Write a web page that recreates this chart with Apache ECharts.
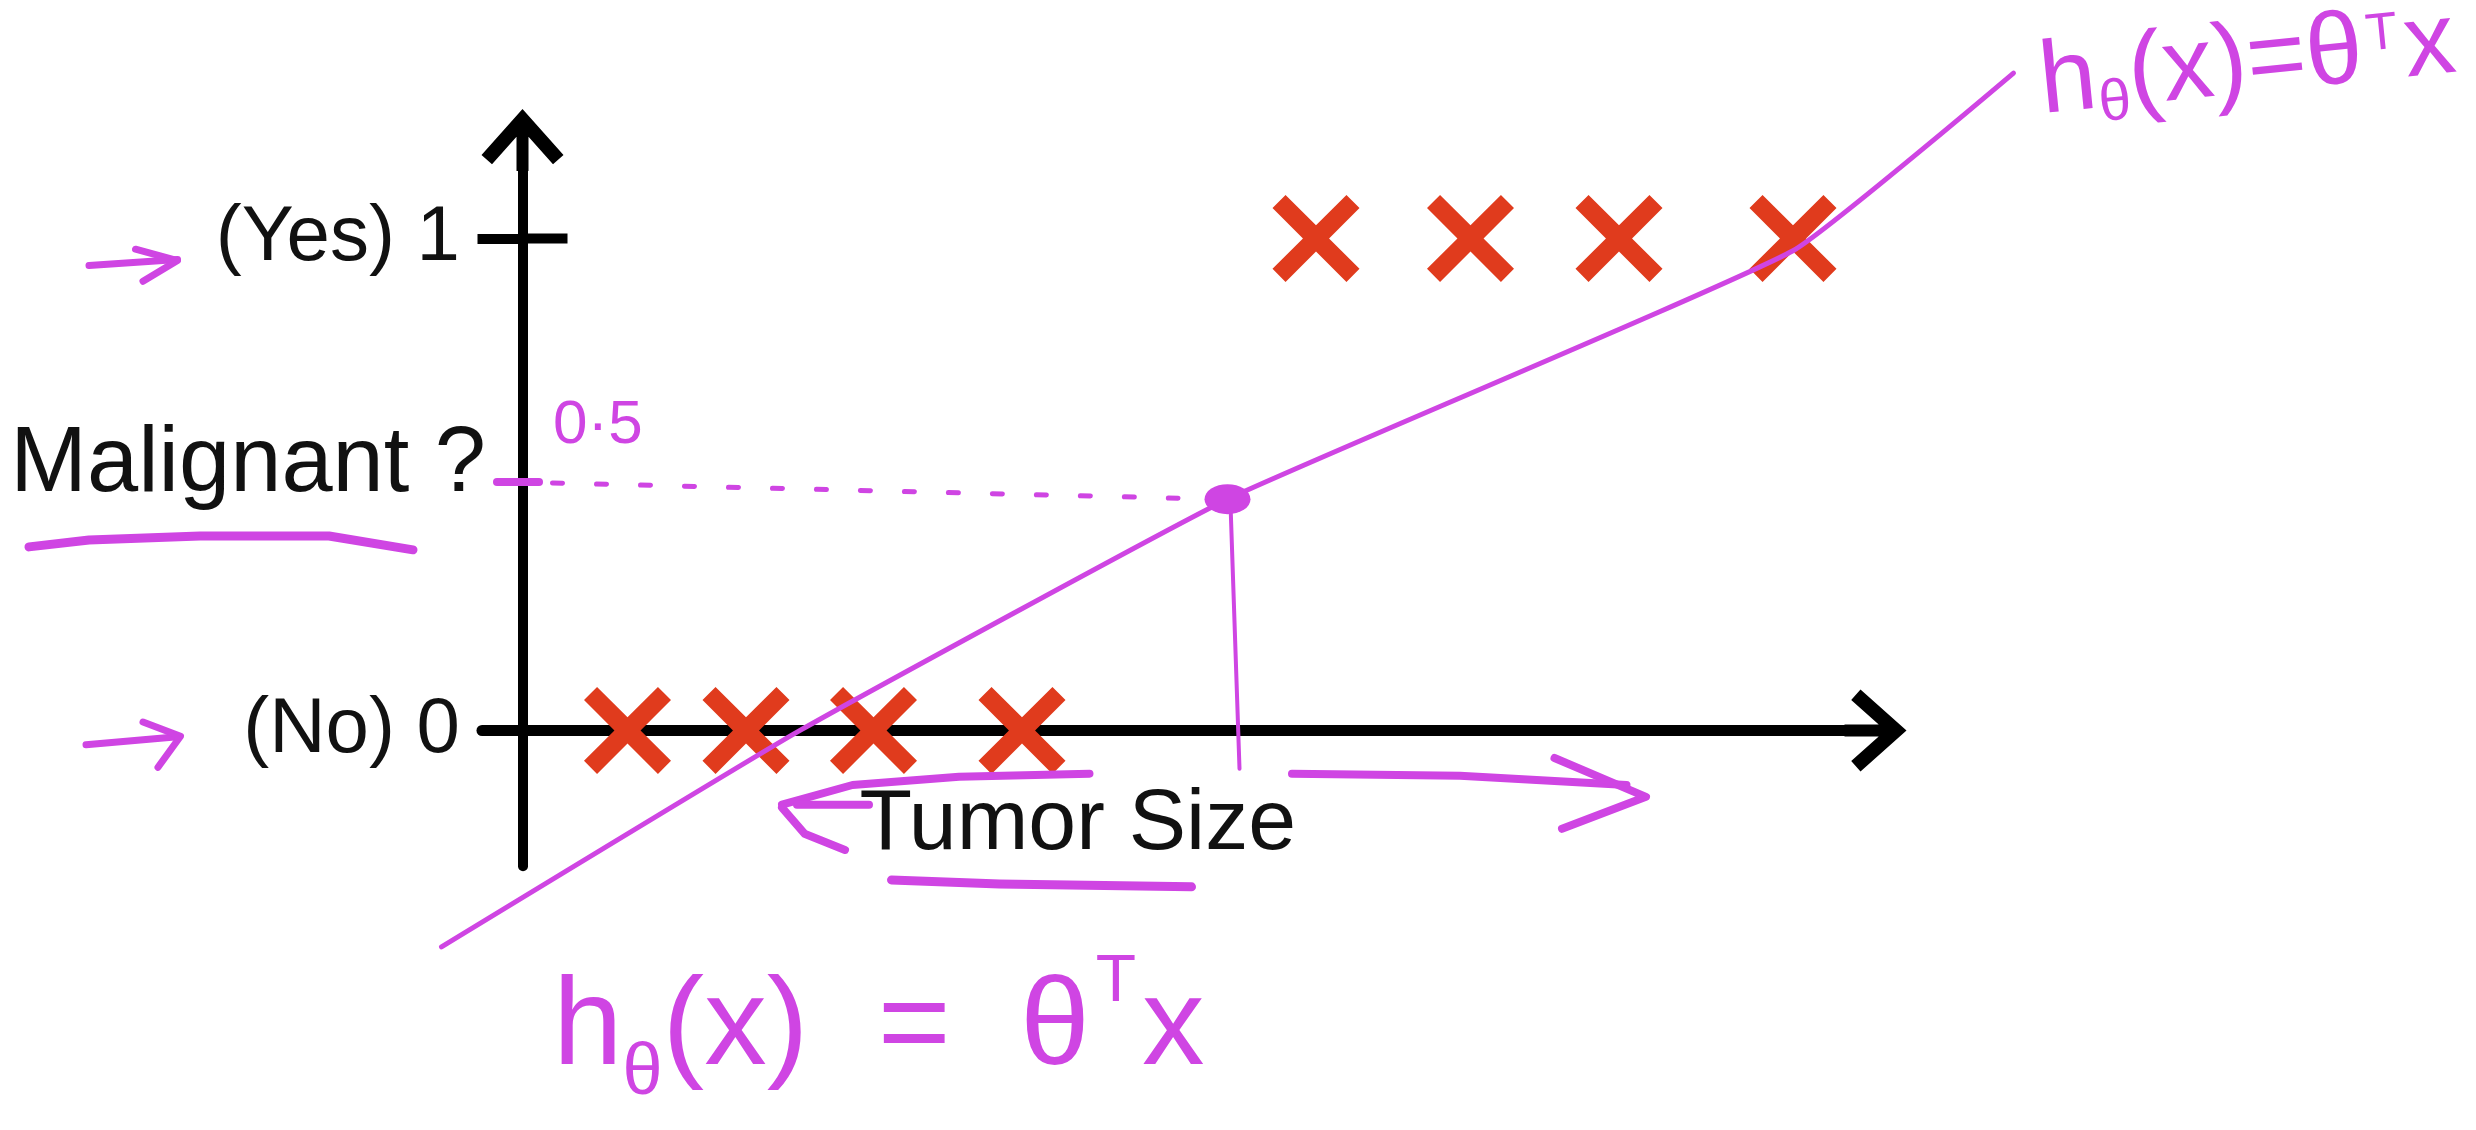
<!DOCTYPE html>
<html><head><meta charset="utf-8">
<script src="https://cdn.jsdelivr.net/npm/echarts@6/dist/echarts.min.js"></script>
<style>html,body{margin:0;padding:0;background:#fff}#c{width:2476px;height:1130px}</style>
</head><body><div id="c"></div>
<script>
// ---- data ----
const yTickValues = [0, 1];
const yTickLabels = ['(No) 0', '(Yes) 1'];
const benignSizes = [0.70, 1.49, 2.34, 3.33];      // tumor sizes labelled 0 (No)
const malignantSizes = [5.29, 6.32, 7.31, 8.47];   // tumor sizes labelled 1 (Yes)
const hypothesisX = [-0.54, 1.85, 4.70, 8.47, 9.94];
const hypothesisY = [-0.44, 0.00, 0.47, 0.975, 1.336];
const thresholdValue = 0.5;
const thresholdPoint = [4.70, 0.47];
// hand-drawn annotation strokes (data coordinates)
const strokeYesArrowShaft = [[-2.89, 0.945], [-2.30, 0.957]];
const strokeYesArrowHead = [[-2.58, 0.978], [-2.30, 0.955], [-2.53, 0.913]];
const strokeNoArrowShaft = [[-2.91, -0.029], [-2.30, -0.013]];
const strokeNoArrowHead = [[-2.53, 0.017], [-2.28, -0.012], [-2.43, -0.075]];
const strokeMalignantUnderline = [[-3.29, 0.373], [-2.89, 0.387], [-2.15, 0.395], [-1.29, 0.395], [-0.73, 0.367]];
const strokeTumorUnderline = [[2.46, -0.304], [3.18, -0.312], [4.46, -0.318]];
const strokeLeftArrowUpper = [[3.78, -0.088], [2.91, -0.094], [2.20, -0.111], [1.73, -0.151]];
const strokeLeftArrowLower = [[1.73, -0.157], [1.88, -0.210], [2.15, -0.243]];
const strokeLeftArrowShaft = [[1.83, -0.151], [2.31, -0.151]];
const strokeRightArrowShaft = [[5.13, -0.088], [6.25, -0.092], [7.36, -0.111]];
const strokeRightArrowHead = [[6.88, -0.056], [7.49, -0.135], [6.93, -0.200]];
const strokeHalfMark = [[-0.17, 0.505], [0.11, 0.505]];
const strokeHalfDashed = [[0.20, 0.503], [4.37, 0.472]];
const strokeDrop = [[4.72, 0.46], [4.78, -0.078]];
const tickRightPart = [[0, 1], [0.3, 1]];

// ---- layout (one linear mapping shared by both grids) ----
const W = 2476, H = 1130;
const PX_X = 150, PX_Y = 492;
const X_MIN = -0.27, X_MAX = 9.02, Y_MIN = -0.276, Y_MAX = 1.2;
const G_LEFT = 482, G_TOP = 140;
const G_RIGHT = W - G_LEFT - (X_MAX - X_MIN) * PX_X;
const G_BOTTOM = H - G_TOP - (Y_MAX - Y_MIN) * PX_Y;
const FX_MIN = X_MIN - G_LEFT / PX_X, FX_MAX = X_MAX + G_RIGHT / PX_X;
const FY_MIN = Y_MIN - G_BOTTOM / PX_Y, FY_MAX = Y_MAX + G_TOP / PX_Y;

// ---- styles ----
const PINK = '#cf45e3';
const RED = '#e03b1d';
const FONT = "'Liberation Sans', Arial, sans-serif";
const ARROW = 'path://M41 0 L82 46 L71.5 55.3 L47 27.8 L47 62 L35 62 L35 27.8 L10.5 55.3 L0 46 Z';
const CROSS = 'path://M0 15 L15 0 L50 35 L85 0 L100 15 L65 50 L100 85 L85 100 L50 65 L15 100 L0 85 L35 50 Z';

function stroke(data, width, extra) {
  return Object.assign({
    type: 'line', data: data, symbol: 'none', clip: false, silent: true, z: 5,
    xAxisIndex: 1, yAxisIndex: 1,
    lineStyle: { color: PINK, width: width || 6, cap: 'round', join: 'round' }
  }, extra || {});
}

const chart = echarts.init(document.getElementById('c'), null, { renderer: 'canvas' });
chart.setOption({
  backgroundColor: '#ffffff',
  animation: false,
  grid: [
    { left: G_LEFT, top: G_TOP, right: G_RIGHT, bottom: G_BOTTOM, containLabel: false, outerBoundsMode: 'none' },
    { left: 0, top: 0, right: 0, bottom: 0, containLabel: false, outerBoundsMode: 'none' }
  ],
  xAxis: [{
    type: 'value', gridIndex: 0, min: X_MIN, max: X_MAX,
    axisLine: { onZero: true, lineStyle: { color: '#000', width: 11 }, symbol: ['none', ARROW], symbolSize: [82, 62] },
    axisTick: { show: false }, axisLabel: { show: false }, splitLine: { show: false },
    name: 'Tumor Size', nameLocation: 'middle', nameGap: -84, nameMoveOverlap: false,
    nameTextStyle: { fontSize: 86, color: '#111', fontFamily: FONT, padding: [0, 202, 0, 0] }
  }, {
    type: 'value', gridIndex: 1, min: FX_MIN, max: FX_MAX, show: false
  }],
  yAxis: [{
    type: 'value', gridIndex: 0, min: Y_MIN, max: Y_MAX,
    axisLine: { onZero: true, lineStyle: { color: '#000', width: 10 }, symbol: ['none', ARROW], symbolSize: [82, 62] },
    axisTick: { show: true, customValues: [1], length: 45, lineStyle: { color: '#000', width: 10 } },
    axisLabel: {
      customValues: yTickValues, margin: 22, fontSize: 78, color: '#111', fontFamily: FONT,
      formatter: function (v) { return yTickLabels[yTickValues.indexOf(v)]; }
    },
    splitLine: { show: false },
    name: 'Malignant ?', nameLocation: 'middle', nameRotate: 0, nameGap: -4, nameMoveOverlap: false,
    nameTextStyle: { fontSize: 92, lineHeight: 74, color: '#111', fontFamily: FONT, align: 'right', verticalAlign: 'bottom' }
  }, {
    type: 'value', gridIndex: 1, min: FY_MIN, max: FY_MAX, show: false
  }],
  series: [
    { type: 'line', data: tickRightPart, symbol: 'none', silent: true, z: 1,
      lineStyle: { color: '#000', width: 10 } },
    { type: 'scatter', data: benignSizes.map(x => [x, 0]), symbol: CROSS, symbolSize: 87,
      itemStyle: { color: RED, opacity: 1 }, z: 3, silent: true },
    { type: 'scatter', data: malignantSizes.map(x => [x, 1]), symbol: CROSS, symbolSize: 87,
      itemStyle: { color: RED, opacity: 1 }, z: 3, silent: true },
    stroke(hypothesisX.map((x, i) => [x, hypothesisY[i]]), 5, { smooth: 0.12 }),
    stroke(strokeHalfMark, 8),
    stroke(strokeHalfDashed, 5, { lineStyle: { color: PINK, width: 5, type: [10, 34], cap: 'round' } }),
    stroke(strokeDrop, 4),
    { type: 'scatter', data: [thresholdPoint], symbol: 'circle', symbolSize: [46, 30],
      itemStyle: { color: PINK, opacity: 1 }, z: 6, silent: true },
    stroke(strokeYesArrowShaft, 7), stroke(strokeYesArrowHead, 7),
    stroke(strokeNoArrowShaft, 7), stroke(strokeNoArrowHead, 7),
    stroke(strokeMalignantUnderline, 9),
    stroke(strokeTumorUnderline, 9),
    stroke(strokeLeftArrowUpper, 8), stroke(strokeLeftArrowLower, 8), stroke(strokeLeftArrowShaft, 8),
    stroke(strokeRightArrowShaft, 8), stroke(strokeRightArrowHead, 8)
  ],
  graphic: [
    { type: 'text', left: 553, top: 395, z: 10, silent: true,
      style: { text: '0·5', fill: PINK, font: "62px 'Liberation Sans', sans-serif" } },
    { type: 'text', left: 553, top: 950, z: 10, silent: true,
      style: {
        text: '{m|h}{s|θ}{m|(x)  =  θ}{p|T}{m|x}', fill: PINK,
        rich: {
          m: { fontSize: 125, fontFamily: FONT, color: PINK, lineHeight: 160, verticalAlign: 'middle' },
          s: { fontSize: 72, fontFamily: FONT, color: PINK, lineHeight: 160, verticalAlign: 'bottom' },
          p: { fontSize: 66, fontFamily: FONT, color: PINK, lineHeight: 160, verticalAlign: 'top', padding: [0, 6, 0, 6] }
        }
      } },
    { type: 'text', x: 2040, y: 30, rotation: 0.1, originX: 0, originY: 55, z: 10, silent: true,
      style: {
        text: '{m|h}{s|θ}{m|(x)=θ}{p|T}{m|x}', fill: PINK,
        rich: {
          m: { fontSize: 102, fontFamily: FONT, color: PINK, lineHeight: 110, verticalAlign: 'middle' },
          s: { fontSize: 58, fontFamily: FONT, color: PINK, lineHeight: 110, verticalAlign: 'bottom' },
          p: { fontSize: 52, fontFamily: FONT, color: PINK, lineHeight: 110, verticalAlign: 'middle', padding: [0, 5, 32, 5] }
        }
      } }
  ]
});
</script></body></html>
